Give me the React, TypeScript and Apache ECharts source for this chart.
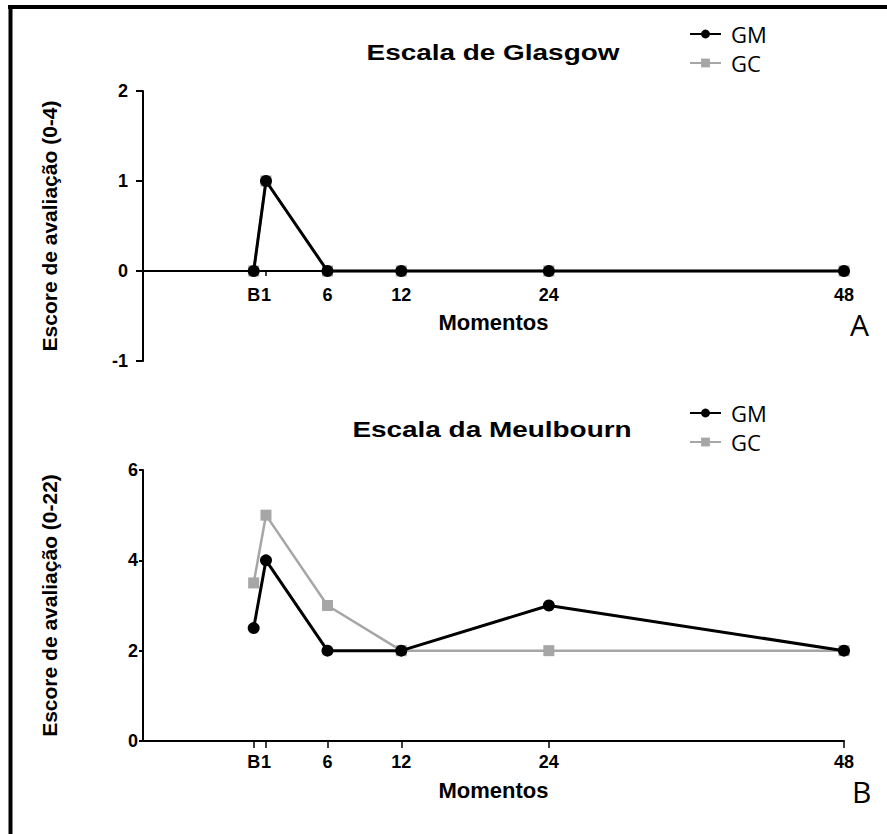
import React, { useEffect, useRef } from "react";
import * as echarts from "echarts";

const hours = [0, 1, 6, 12, 24, 48];
const hourLabels = ["B", "1", "6", "12", "24", "48"];
const seriesNames = ["GM", "GC"];
const glasgowGM = [0, 1, 0, 0, 0, 0];
const glasgowGC = [0, 1, 0, 0, 0, 0];
const melbourneGM = [2.5, 4, 2, 2, 3, 2];
const melbourneGC = [3.5, 5, 3, 2, 2, 2];

const titleTop = "Escala de Glasgow";
const titleBottom = "Escala da Meulbourn";
const yNameTop = "Escore de avaliação (0-4)";
const yNameBottom = "Escore de avaliação (0-22)";
const xName = "Momentos";

const GRAY = "#a6a6a6";
const SANS = "Liberation Sans, Arial, sans-serif";
const LEG = "Open Sans, sans-serif";

const TOP_H = 270;
const BOT_H = 271;

const pts = (vals: number[]) => hours.map((h, i) => [h, vals[i]]);

function xAxisCfg(grid: number, offset: number, tickLen: number, labelMargin: number, nameGap: number) {
  return {
    type: "value",
    gridIndex: grid,
    min: -9,
    max: 48,
    position: "bottom",
    offset,
    axisLine: { show: true, onZero: false, lineStyle: { color: "#000", width: 2 } },
    axisTick: { show: true, customValues: hours, length: tickLen, lineStyle: { color: "#000", width: 1.5 } },
    axisLabel: {
      customValues: hours,
      formatter: (v: number) => hourLabels[hours.indexOf(v)] ?? "",
      margin: labelMargin,
      color: "#000",
      fontFamily: SANS,
      fontWeight: "bold",
      fontSize: 18,
    },
    splitLine: { show: false },
    name: xName,
    nameLocation: "middle",
    nameGap,
    nameTextStyle: { color: "#000", fontFamily: SANS, fontWeight: "bold", fontSize: 22 },
  };
}

function yAxisCfg(grid: number, min: number, max: number, interval: number, tickLen: number, margin: number, name: string) {
  return {
    type: "value",
    gridIndex: grid,
    min,
    max,
    interval,
    axisLine: { show: true, onZero: false, lineStyle: { color: "#000", width: 2 } },
    axisTick: { show: true, length: tickLen, lineStyle: { color: "#000", width: 2 } },
    axisLabel: { margin, color: "#000", fontFamily: SANS, fontWeight: "bold", fontSize: 18 },
    splitLine: { show: false },
    name,
    nameLocation: "middle",
    nameRotate: 90,
    nameGap: 83,
    nameTextStyle: { color: "#000", fontFamily: SANS, fontWeight: "bold", fontSize: 21 },
  };
}

function lineSeries(name: string, grid: number, vals: number[]) {
  const isGM = name === "GM";
  return {
    name,
    type: "line",
    xAxisIndex: grid,
    yAxisIndex: grid,
    data: pts(vals),
    symbol: isGM ? "circle" : "rect",
    symbolSize: isGM ? 12 : 11,
    itemStyle: { color: isGM ? "#000" : GRAY },
    lineStyle: { color: isGM ? "#000" : GRAY, width: isGM ? 3 : 2.5 },
    z: isGM ? 4 : 3,
  };
}

function legendCfg(top: number) {
  return {
    data: seriesNames,
    orient: "vertical",
    left: 684,
    top,
    itemWidth: 31,
    itemHeight: 11,
    itemGap: 7,
    textStyle: { color: "#000", fontFamily: LEG, fontSize: 22, padding: [0, 0, 0, 5] },
  };
}

export default function App() {
  const ref = useRef<HTMLDivElement>(null);
  useEffect(() => {
    if (!ref.current) return;
    const chart = echarts.init(ref.current, null, { renderer: "svg" });
    chart.setOption({
      animation: false,
      backgroundColor: "#fff",
      textStyle: { fontFamily: SANS },
      grid: [
        { left: 143, top: 91, width: 701, height: TOP_H },
        { left: 143, top: 470, width: 701, height: BOT_H },
      ],
      xAxis: [xAxisCfg(0, -TOP_H / 3, 5, 15, 40), xAxisCfg(1, 0, 7, 12, 38)],
      yAxis: [
        yAxisCfg(0, -1, 2, 1, 7, 15, yNameTop),
        yAxisCfg(1, 0, 6, 2, 4, 5, yNameBottom),
      ],
      legend: [legendCfg(18), legendCfg(397)],
      series: [
        lineSeries("GC", 0, glasgowGC),
        lineSeries("GM", 0, glasgowGM),
        lineSeries("GC", 1, melbourneGC),
        lineSeries("GM", 1, melbourneGM),
      ],
      graphic: [
        { type: "line", shape: { x1: 8, y1: 7, x2: 887, y2: 7 }, style: { stroke: "#000", lineWidth: 4 } },
        { type: "line", shape: { x1: 10.5, y1: 5, x2: 10.5, y2: 834 }, style: { stroke: "#000", lineWidth: 4 } },
        {
          type: "text", x: 493, y: 52, scaleX: 1.27,
          style: { text: titleTop, align: "center", verticalAlign: "middle", fill: "#000", font: "bold 22px " + SANS },
        },
        {
          type: "text", x: 492, y: 429, scaleX: 1.27,
          style: { text: titleBottom, align: "center", verticalAlign: "middle", fill: "#000", font: "bold 22px " + SANS },
        },
        {
          type: "text", x: 850, y: 324,
          style: { text: "A", align: "left", verticalAlign: "middle", fill: "#000", font: "30px " + LEG },
        },
        {
          type: "text", x: 852, y: 791,
          style: { text: "B", align: "left", verticalAlign: "middle", fill: "#000", font: "30px " + LEG },
        },
      ],
    });
    return () => chart.dispose();
  }, []);
  return (
    <div
      ref={ref}
      style={{ position: "absolute", left: 0, top: 0, width: 887, height: 834 }}
    />
  );
}
